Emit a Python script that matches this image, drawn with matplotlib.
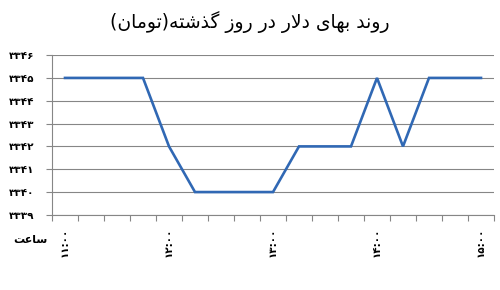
import numpy as np
import matplotlib
matplotlib.use("Agg")
import matplotlib.pyplot as plt

# Persian text is written in visual order with Arabic presentation forms,
# since matplotlib does no Arabic shaping or bidi reordering itself.
# logical: "روند بهای دلار در روز گذشته(تومان)"
TITLE = ("(\uFEE5\uFE8E\uFEE3\uFEEE\uFE97)\uFEEA\uFE98\uFEB7\uFEAC\uFB94 "
         "\uFEAF\uFEED\uFEAD \uFEAD\uFEA9 \uFEAD\uFEFB\uFEA9 "
         "\uFBFC\uFE8E\uFEEC\uFE91 \uFEAA\uFEE7\uFEED\uFEAD")
# logical: "ساعت"
XLABEL = "\uFE96\uFECB\uFE8E\uFEB3"

# quarter-hour readings, 11:00 .. 15:00
prices = [3345, 3345, 3345, 3345, 3342, 3340, 3340, 3340, 3340,
          3342, 3342, 3342, 3345, 3342, 3345, 3345, 3345]
label_idx = [0, 4, 8, 12, 16]
hour_labels = ["۱۱:۰۰", "۱۲:۰۰", "۱۳:۰۰", "۱۴:۰۰", "۱۵:۰۰"]
y_ticks = [3339, 3340, 3341, 3342, 3343, 3344, 3345, 3346]
y_labels = ["۳۳۳۹", "۳۳۴۰", "۳۳۴۱", "۳۳۴۲", "۳۳۴۳", "۳۳۴۴", "۳۳۴۵", "۳۳۴۶"]

GRID = "#868686"
LINE = "#3068B4"

plt.rcParams["font.family"] = ["DejaVu Sans"]

fig = plt.figure(figsize=(5, 2.9), dpi=100)
ax = fig.add_axes([0.104, 0.259, 0.884, 0.551])

x = np.arange(len(prices))
ax.plot(x, prices, color=LINE, lw=1.9, solid_joinstyle="miter", zorder=3)

ax.set_xlim(-0.5, len(prices) - 0.5)
ax.set_ylim(y_ticks[0], y_ticks[-1])
ax.set_yticks(y_ticks)
ax.set_yticklabels(y_labels, fontsize=7.5, fontweight="bold")
ax.yaxis.grid(True, color=GRID, lw=0.8)
ax.set_axisbelow(True)

ax.set_xticks(label_idx)
ax.set_xticklabels(hour_labels, rotation=90, fontsize=7.5, fontweight="bold")
ax.set_xticks(np.arange(-0.5, len(prices), 1), minor=True)
ax.tick_params(axis="x", which="major", length=0, pad=9)
ax.tick_params(axis="x", which="minor", length=4, color=GRID, width=0.8)
ax.tick_params(axis="y", length=4, color=GRID, width=0.8, pad=9)

for side in ("top", "right"):
    ax.spines[side].set_visible(False)
for side in ("left", "bottom"):
    ax.spines[side].set_color(GRID)
    ax.spines[side].set_linewidth(0.8)

fig.text(0.5, 0.925, TITLE, ha="center", va="center", fontsize=13.5)
fig.text(0.06, 0.172, XLABEL, ha="center", va="center", fontsize=8,
         fontweight="bold")

fig.savefig("out.png", dpi=100)
